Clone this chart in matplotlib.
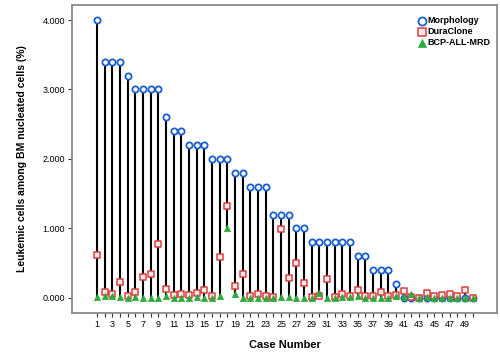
import numpy as np
import matplotlib
matplotlib.use("Agg")
import matplotlib.pyplot as plt

cases = list(range(1, 51))
morphology = [4.0, 3.4, 3.4, 3.4, 3.2, 3.0, 3.0, 3.0, 3.0, 2.6,
              2.4, 2.4, 2.2, 2.2, 2.2, 2.0, 2.0, 2.0, 1.8, 1.8,
              1.6, 1.6, 1.6, 1.2, 1.2, 1.2, 1.0, 1.0, 0.8, 0.8,
              0.8, 0.8, 0.8, 0.8, 0.6, 0.6, 0.4, 0.4, 0.4, 0.2,
              0.0, 0.0, 0.0, 0.0, 0.0, 0.0, 0.0, 0.0, 0.0, 0.0]
duraclone = [0.62, 0.08, 0.06, 0.23, 0.03, 0.09, 0.30, 0.34, 0.78, 0.13,
             0.04, 0.06, 0.04, 0.07, 0.12, 0.03, 0.59, 1.32, 0.17, 0.35,
             0.03, 0.06, 0.03, 0.01, 0.99, 0.29, 0.50, 0.21, 0.01, 0.02,
             0.27, 0.01, 0.05, 0.03, 0.12, 0.02, 0.02, 0.08, 0.02, 0.04,
             0.10, 0.01, 0.00, 0.07, 0.03, 0.04, 0.05, 0.02, 0.12, 0.00]
bcp_mrd = [0.01, 0.02, 0.02, 0.01, 0.00, 0.01, 0.00, 0.00, 0.00, 0.02,
           0.00, 0.00, 0.00, 0.01, 0.00, 0.00, 0.02, 1.01, 0.06, 0.00,
           0.00, 0.00, 0.00, 0.00, 0.01, 0.01, 0.00, 0.00, 0.00, 0.07,
           0.00, 0.00, 0.01, 0.01, 0.02, 0.00, 0.00, 0.00, 0.00, 0.02,
           0.01, 0.05, 0.00, 0.01, 0.00, 0.00, 0.00, 0.00, 0.00, 0.00]
ytick_values = [0, 1, 2, 3, 4]

fig = plt.figure(figsize=(5.0, 3.58), dpi=100)
ax = fig.add_axes([0.144, 0.126, 0.85, 0.86])

x = np.array(cases)
m = np.array(morphology); d = np.array(duraclone); b = np.array(bcp_mrd)
hi = np.maximum(np.maximum(m, d), b)
lo = np.minimum(np.minimum(m, d), b)
ax.vlines(x, lo, hi, color="black", lw=1.5, zorder=1)

ax.scatter(x, m, marker="o", s=20, facecolor="white", edgecolor="#1a5fd0", lw=1.3, zorder=3, label="Morphology")
ax.scatter(x, d, marker="s", s=22, facecolor="#fbe9e9", edgecolor="#d94040", lw=1.1, zorder=4, label="DuraClone")
ax.scatter(x, b, marker="^", s=20, facecolor="#2eaa3a", edgecolor="#2eaa3a", lw=0.5, zorder=5, label="BCP-ALL-MRD")

ax.set_xlim(-2.26, 53.15)
ax.set_ylim(-0.216, 4.216)
ax.set_xticks(cases)
ax.set_xticklabels([str(c) if c % 2 == 1 else "" for c in cases], fontsize=6.5, family="Liberation Sans")
ax.set_yticks(ytick_values)
ax.set_yticklabels([f"{v:.3f}" for v in ytick_values], fontsize=6.5, family="Liberation Sans")
ax.tick_params(axis="both", direction="out", length=3, width=0.8, color="#333333", pad=2)
for s in ax.spines.values():
    s.set_color("#8a8a8a"); s.set_linewidth(1.3)

ax.set_xlabel("Case Number", fontsize=8, fontweight="bold", family="Liberation Sans", labelpad=8)
ax.set_ylabel("Leukemic cells among BM nucleated cells (%)", fontsize=7.5, fontweight="bold", family="Liberation Sans", labelpad=11)

leg = ax.legend(loc="upper right", bbox_to_anchor=(1.0, 0.985), frameon=False, handletextpad=0.1,
                labelspacing=0.22, borderaxespad=0.3, handlelength=1.0, markerscale=1.3,
                prop={"family": "Liberation Sans", "weight": "bold", "size": 6.5})
fig.savefig("out.png", dpi=100, facecolor="white")
